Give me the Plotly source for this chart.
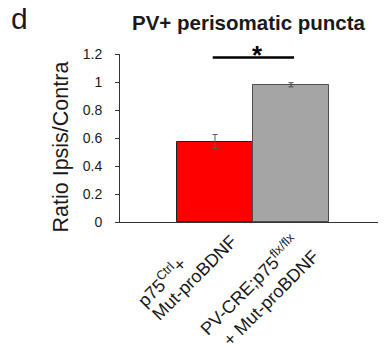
import plotly.graph_objects as go

# ---- data ----
categories = ["p75<sup>Ctrl</sup>+<br>Mut-proBDNF",
              "PV-CRE;p75<sup>flx/flx</sup><br>+ Mut-proBDNF"]
ratio_values = [0.575, 0.98]
ratio_errors = [0.05, 0.015]
y_ticks = [0, 0.2, 0.4, 0.6, 0.8, 1.0, 1.2]
y_tick_labels = ["0", "0.2", "0.4", "0.6", "0.8", "1", "1.2"]
sig_pair = [0, 1]
sig_level = 1.175
sig_mark = "*"
title_text = "PV+ perisomatic puncta"
y_title = "Ratio Ipsis/Contra"
panel_letter = "d"

# ---- layout geometry (figure pixels; the page adds an 8px body margin) ----
W, H = 378, 339
L, R, T, B = 112, 0, 46, 125
PW, PH = W - L - R, H - T - B


def px(x):  # figure px -> paper x
    return (x - L) / PW


def py(y):  # figure px (from top) -> paper y
    return (H - B - y) / PH


FONT = "Liberation Sans, Arial, sans-serif"
TXT = "#1a1a1a"
bar_fill = ["#FF0000", "#A5A5A5"]
bar_edge = ["#202020", "#4d4d4d"]
err_color = ["#5a5a5a", "#4d4d4d"]
LABEL_FS = 18
# baseline-start of each label line (figure px), one pair of lines per category
line_starts = [[(141.0, 299.0), (152.5, 312.7)],
               [(204.2, 328.0), (224.0, 339.0)]]

fig = go.Figure()
for i, (v, e) in enumerate(zip(ratio_values, ratio_errors)):
    fig.add_trace(go.Bar(
        x=[i], y=[v], width=1,
        marker=dict(color=bar_fill[i], line=dict(color=bar_edge[i], width=1)),
        error_y=dict(type="data", array=[e], visible=True,
                     color=err_color[i], thickness=1, width=2.5),
        showlegend=False, hoverinfo="skip"))

# significance bar
fig.add_shape(type="line", xref="x", yref="y",
              x0=sig_pair[0] - 0.03, x1=sig_pair[1] + 0.04,
              y0=sig_level, y1=sig_level,
              line=dict(color="black", width=2.5))
fig.add_annotation(x=(sig_pair[0] + sig_pair[1]) / 2 + 0.053, y=py(47),
                   xref="x", yref="paper", text="<b>%s</b>" % sig_mark,
                   showarrow=False, xanchor="center", yanchor="middle",
                   font=dict(family=FONT, size=26, color="black"))

# rotated category labels, one annotation per line (left aligned)
pad, lb = 2.0, 1.0
for i, lab in enumerate(categories):
    for j, line in enumerate(lab.split("<br>")):
        bx, by = line_starts[i][j]
        h = LABEL_FS * 1.15 + 2 * pad + (LABEL_FS * 0.33 if "<sup>" in line else 0)
        d = pad + 0.212 * LABEL_FS
        p = pad + lb
        left = bx - 0.7071 * (h + p - d)
        bottom = by + 0.7071 * (p + d)
        fig.add_annotation(x=px(left), y=py(bottom), xref="paper", yref="paper",
                           text=line, showarrow=False, textangle=-45,
                           xanchor="left", yanchor="bottom",
                           font=dict(family=FONT, size=LABEL_FS, color=TXT))

# title, y title and panel letter
fig.add_annotation(x=px(241), y=py(14), xref="paper", yref="paper",
                   text="<b>%s</b>" % title_text, showarrow=False,
                   xanchor="center", yanchor="middle",
                   font=dict(family=FONT, size=20.5, color=TXT))
fig.add_annotation(x=px(52), y=py(139.5), xref="paper", yref="paper",
                   text=y_title, showarrow=False, textangle=-90,
                   xanchor="center", yanchor="middle",
                   font=dict(family=FONT, size=21.5, color=TXT))
fig.add_annotation(x=px(11.5), y=py(10), xref="paper", yref="paper",
                   text=panel_letter, showarrow=False,
                   xanchor="center", yanchor="middle",
                   font=dict(family=FONT, size=30, color=TXT))

fig.update_layout(
    width=W, height=H,
    margin=dict(l=L, r=R, t=T, b=B, pad=0),
    paper_bgcolor="white", plot_bgcolor="white",
    bargap=0,
    font=dict(family=FONT, color=TXT),
    xaxis=dict(range=[-1.25, 2.25], showticklabels=False, ticks="",
               showgrid=False, zeroline=False, showline=True,
               linecolor="#333", linewidth=1, fixedrange=True),
    yaxis=dict(range=[0, 1.2], tickvals=y_ticks, ticktext=y_tick_labels,
               ticks="outside", ticklen=4, tickcolor="#333", tickwidth=1,
               showgrid=False, zeroline=False, showline=True,
               linecolor="#333", linewidth=1, fixedrange=True,
               tickfont=dict(family=FONT, size=14, color=TXT),
               ticklabelstandoff=10),
)

fig.write_html("out.html")
